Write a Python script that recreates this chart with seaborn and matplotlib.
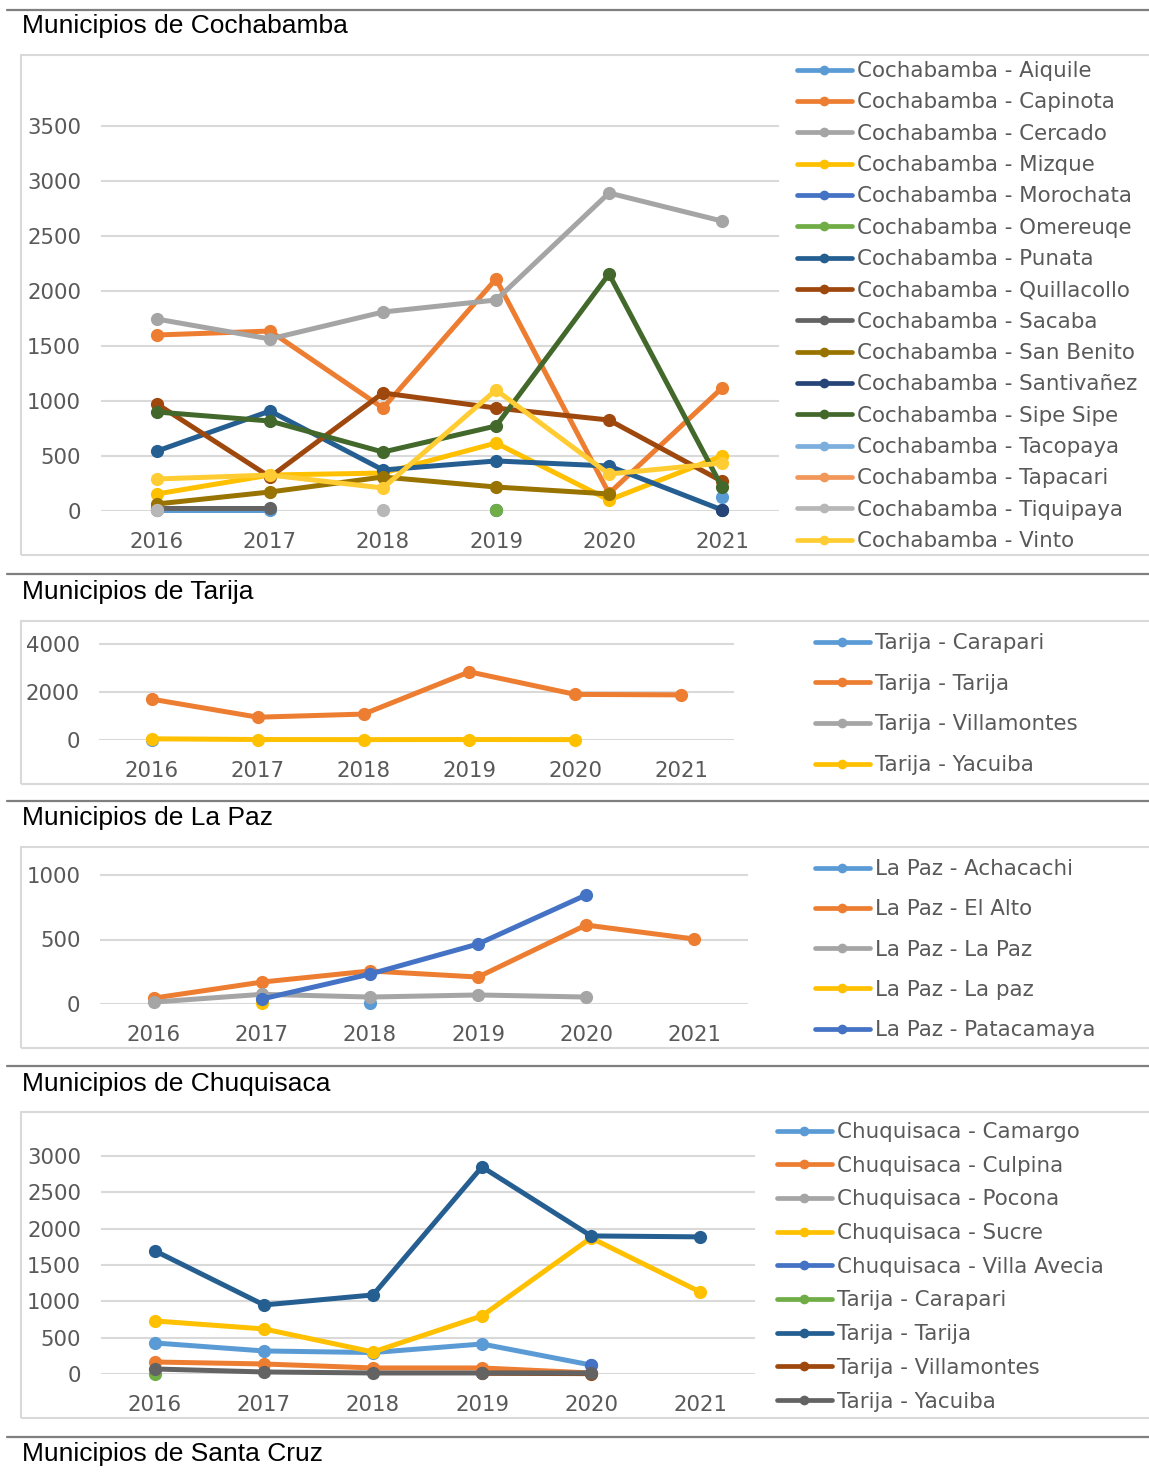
import numpy as np
import pandas as pd
import seaborn as sns
import matplotlib.pyplot as plt
from matplotlib.lines import Line2D
from matplotlib.patches import Rectangle

nan = np.nan
W, H = 1149, 1477

years = [2016, 2017, 2018, 2019, 2020, 2021]

# --- Cochabamba ---
cbba_names = ["Cochabamba - Aiquile", "Cochabamba - Capinota", "Cochabamba - Cercado",
              "Cochabamba - Mizque", "Cochabamba - Morochata", "Cochabamba - Omereuqe",
              "Cochabamba - Punata", "Cochabamba - Quillacollo", "Cochabamba - Sacaba",
              "Cochabamba - San Benito", "Cochabamba - Santivañez", "Cochabamba - Sipe Sipe",
              "Cochabamba - Tacopaya", "Cochabamba - Tapacari", "Cochabamba - Tiquipaya",
              "Cochabamba - Vinto"]
aiquile = [5, 5, nan, nan, nan, 127]
capinota = [1600, 1636, 936, 2109, 160, 1118]
cercado = [1745, 1564, 1809, 1918, 2891, 2636]
mizque = [155, 327, 345, 618, 100, 500]
morochata = [nan, nan, nan, 10, nan, nan]
omereuqe = [nan, nan, nan, 5, nan, nan]
punata = [545, 909, 373, 455, 409, 10]
quillacollo = [973, 309, 1073, 936, 827, 270]
sacaba = [27, 27, nan, nan, nan, nan]
san_benito = [64, 173, 309, 218, 155, nan]
santivanez = [nan, nan, nan, nan, nan, 5]
sipe_sipe = [900, 818, 536, 773, 2155, 218]
tacopaya = [nan, nan, nan, nan, nan, nan]
tapacari = [5, nan, nan, nan, nan, nan]
tiquipaya = [5, nan, 5, nan, nan, nan]
vinto = [291, 327, 209, 1100, 336, 436]
cbba_values = [aiquile, capinota, cercado, mizque, morochata, omereuqe, punata,
               quillacollo, sacaba, san_benito, santivanez, sipe_sipe, tacopaya,
               tapacari, tiquipaya, vinto]

# --- Tarija ---
tja_names = ["Tarija - Carapari", "Tarija - Tarija", "Tarija - Villamontes", "Tarija - Yacuiba"]
tja_carapari = [5, nan, nan, nan, nan, nan]
tja_tarija = [1700, 950, 1080, 2840, 1900, 1880]
tja_villamontes = [nan, nan, nan, nan, nan, nan]
tja_yacuiba = [50, 20, 15, 20, 15, nan]
tja_values = [tja_carapari, tja_tarija, tja_villamontes, tja_yacuiba]

# --- La Paz ---
lpz_names = ["La Paz - Achacachi", "La Paz - El Alto", "La Paz - La Paz",
             "La Paz - La paz", "La Paz - Patacamaya"]
achacachi = [nan, nan, 5, nan, nan, nan]
el_alto = [46, 170, 256, 209, 612, 504]
la_paz = [15, 75, 54, 70, 54, nan]
la_paz_low = [nan, 5, nan, nan, nan, nan]
patacamaya = [nan, 39, 232, 465, 845, nan]
lpz_values = [achacachi, el_alto, la_paz, la_paz_low, patacamaya]

# --- Chuquisaca ---
chq_names = ["Chuquisaca - Camargo", "Chuquisaca - Culpina", "Chuquisaca - Pocona",
             "Chuquisaca - Sucre", "Chuquisaca - Villa Avecia", "Tarija - Carapari",
             "Tarija - Tarija", "Tarija - Villamontes", "Tarija - Yacuiba"]
camargo = [427, 317, 295, 413, 124, nan]
culpina = [165, 138, 83, 83, 14, nan]
pocona = [nan, nan, nan, nan, nan, nan]
sucre = [730, 620, 303, 800, 1873, 1130]
villa_avecia = [nan, nan, nan, nan, 124, nan]
t_carapari = [5, nan, nan, nan, nan, nan]
t_tarija = [1694, 950, 1088, 2850, 1900, 1887]
t_villamontes = [nan, nan, nan, 10, 5, nan]
t_yacuiba = [69, 28, 14, 14, 14, nan]
chq_values = [camargo, culpina, pocona, sucre, villa_avecia, t_carapari,
              t_tarija, t_villamontes, t_yacuiba]

# Office 2013 chart palette
office = ["#5B9BD5", "#ED7D31", "#A5A5A5", "#FFC000", "#4472C4", "#70AD47",
          "#255E91", "#9E480E", "#636363", "#997300", "#264478", "#43682B",
          "#7CAFDD", "#F1975A", "#B7B7B7", "#FFCD33"]

sns.set_theme(style="white")
plt.rcParams["font.family"] = ["DejaVu Sans"]

fig = plt.figure(figsize=(W / 100, H / 100), dpi=100)


def long_frame(names, values):
    # one unit per unbroken run, so gaps stay gaps like in Excel
    rows = []
    seg = 0
    for name, vals in zip(names, values):
        prev = False
        for yr, v in zip(years, vals):
            if np.isnan(v):
                prev = False
                continue
            if not prev:
                seg += 1
            rows.append({"year": yr, "value": v, "series": name, "seg": seg})
            prev = True
    return pd.DataFrame(rows)


def panel(names, values, x_first, x_step, y0_px, px_per_unit, ymax, yticks,
          box, sep_y, title, title_y, leg_x, leg_top, leg_space):
    colors = dict(zip(names, office[:len(names)]))
    left = x_first - x_step / 2
    right = left + 6 * x_step
    top = y0_px - ymax * px_per_unit
    ax = fig.add_axes([left / W, 1 - y0_px / H, (right - left) / W, (y0_px - top) / H])
    df = long_frame(names, values)
    sns.lineplot(data=df, x="year", y="value", hue="series", units="seg",
                 estimator=None, hue_order=names, palette=colors, marker="o",
                 markersize=9.5, markeredgewidth=0, linewidth=3.6, sort=False,
                 legend=False, clip_on=False, ax=ax)
    ax.set_xlim(2015.5, 2021.5)
    ax.set_ylim(0, ymax)
    ax.set_xticks(years)
    ax.set_yticks(yticks)
    ax.set_xlabel("")
    ax.set_ylabel("")
    for s in ax.spines.values():
        s.set_visible(False)
    ax.yaxis.grid(True, color="#D9D9D9", linewidth=1.5)
    ax.set_axisbelow(True)
    ax.tick_params(axis="x", length=0, pad=15, labelsize=15.3, labelcolor="#595959")
    ax.tick_params(axis="y", length=0, pad=14, labelsize=15.3, labelcolor="#595959")
    ax.patch.set_alpha(0)

    handles = [Line2D([], [], color=colors[n], lw=3.4, marker="o", ms=7, mew=0)
               for n in names]
    fig.legend(handles, names, loc="upper left",
               bbox_to_anchor=(leg_x / W, 1 - leg_top / H), frameon=False,
               borderpad=0, borderaxespad=0, handlelength=2.55, handletextpad=0.25,
               labelspacing=leg_space, fontsize=15.4, labelcolor="#595959")

    bx0, by0, by1 = box
    fig.add_artist(Rectangle((bx0 / W, 1 - by1 / H), (1160 - bx0) / W, (by1 - by0) / H,
                             transform=fig.transFigure, fill=False,
                             edgecolor="#D9D9D9", linewidth=1.5))
    fig.add_artist(Line2D([7 / W, 1], [1 - sep_y / H] * 2, transform=fig.transFigure,
                          color="#7F7F7F", linewidth=1.6))
    fig.text(22 / W, 1 - title_y / H, title, ha="left", va="center", fontsize=19,
             family=["Liberation Sans", "DejaVu Sans"], color="black")
    return ax


panel(cbba_names, cbba_values, 157, 113, 511, 0.11, 3900, range(0, 3501, 500),
      (21, 55, 555), 10, "Municipios de Cochabamba", 26, 797, 61, 0.53)
panel(tja_names, tja_values, 152, 105.8, 740, 0.024, 4400, [0, 2000, 4000],
      (21, 621, 784), 574, "Municipios de Tarija", 592, 815, 633, 0.97)
panel(lpz_names, lpz_values, 154, 108, 1004, 0.129, 1130, [0, 500, 1000],
      (21, 847, 1048), 801, "Municipios de La Paz", 818, 815, 859, 0.95)
panel(chq_names, chq_values, 155, 109, 1374, 0.07267, 3350, range(0, 3001, 500),
      (21, 1112, 1418), 1066, "Municipios de Chuquisaca", 1084, 777, 1122, 0.64)

# last separator and the next section title (cut off at the bottom)
fig.add_artist(Line2D([7 / W, 1], [1 - 1437 / H] * 2, transform=fig.transFigure,
                      color="#7F7F7F", linewidth=1.6))
fig.text(22 / W, 1 - 1454 / H, "Municipios de Santa Cruz", ha="left", va="center",
         fontsize=19, family=["Liberation Sans", "DejaVu Sans"], color="black")

fig.savefig("out.png", dpi=100)
